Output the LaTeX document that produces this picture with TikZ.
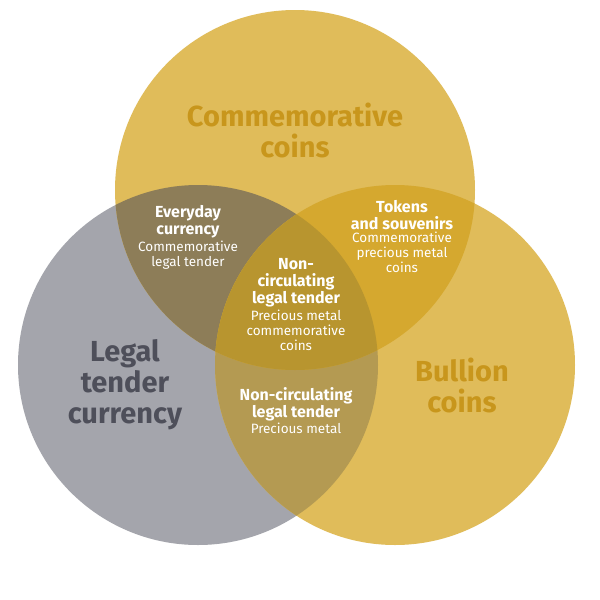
\documentclass[tikz,border=0pt]{standalone}
\usepackage{fontspec}
\setmainfont{Fira Sans}
\usetikzlibrary{positioning}

\definecolor{goldfill}{HTML}{E0BC5A}
\definecolor{greyfill}{HTML}{A4A5AC}
\definecolor{greytop}{HTML}{8D7D58}
\definecolor{greyright}{HTML}{B49A52}
\definecolor{topright}{HTML}{D5A82F}
\definecolor{allthree}{HTML}{B8952F}
\definecolor{goldtext}{HTML}{C8961C}
\definecolor{greytext}{HTML}{4E4F5A}

\tikzset{
  bigtitle/.style={font=\fontsize{29}{31}\selectfont\bfseries, align=center},
  subtitle/.style={font=\fontsize{16}{17}\selectfont\bfseries, text=white, align=center, inner sep=1pt},
  subtext/.style={font=\fontsize{13.5}{15}\selectfont, text=white, align=center, inner sep=1pt}
}
\newcommand{\greyring}{(198,365) circle (180)}
\newcommand{\rightring}{(395,365) circle (180)}
\newcommand{\topring}{(295,190) circle (180)}

\begin{document}
\begin{tikzpicture}[x=1pt,y=-1pt]
\useasboundingbox[fill=white] (0,0) rectangle (600,600);

% circles
\fill[greyfill] \greyring;
\fill[goldfill] \rightring;
\fill[goldfill] \topring;

% overlaps
\begin{scope}\clip \greyring; \fill[greytop] \topring; \fill[greyright] \rightring; \end{scope}
\begin{scope}\clip \topring; \fill[topright] \rightring; \end{scope}
\begin{scope}\clip \greyring; \clip \topring; \fill[allthree] \rightring; \end{scope}

% big titles
\node[bigtitle, text=goldtext] (comm) at (295,130) {Commemorative\\coins};
\node[bigtitle, text=greytext] (legal) at (125,385) {Legal\\tender\\currency};
\node[bigtitle, text=goldtext] (bull) at (462,385) {Bullion\\coins};

% top-left overlap
\node[subtitle] (every) at (188,222) {Everyday\\currency};
\node[subtext, below=0pt of every] (everysub) {Commemorative\\legal tender};

% top-right overlap
\node[subtitle] (tokens) at (402,215) {Tokens\\and souvenirs};
\node[subtext, below=0pt of tokens] (tokenssub) {Commemorative\\precious metal\\coins};

% centre
\node[subtitle] (noncirc) at (296,283) {Non-\\circulating\\legal tender};
\node[subtext, below=0pt of noncirc] (noncircsub) {Precious metal\\commemorative\\coins};

% bottom overlap
\node[subtitle] (noncirclow) at (296,404) {Non-circulating\\legal tender};
\node[subtext, below=0pt of noncirclow] (noncirclowsub) {Precious metal};

\end{tikzpicture}
\end{document}
